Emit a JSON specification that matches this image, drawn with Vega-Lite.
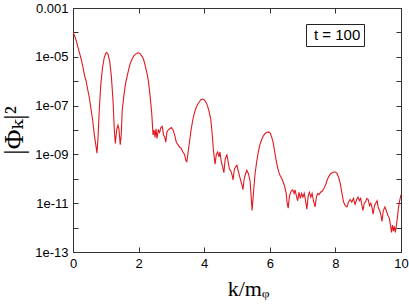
{
  "$schema": "https://vega.github.io/schema/vega-lite/v6.json",
  "width": 328,
  "height": 244,
  "autosize": {"type": "none"},
  "padding": {"left": 73, "top": 8, "right": 8, "bottom": 52},
  "background": "white",
  "config": {
    "view": {"stroke": "#333333", "strokeWidth": 1},
    "axis": {"labelFont": "Liberation Sans", "labelColor": "black", "domainColor": "#333333", "tickColor": "#333333", "grid": false}
  },
  "data": {"values": [
    {"k": 0, "v": 1.05e-4}, {"k": 0.05, "v": 7.08e-5}, {"k": 0.10, "v": 4.47e-5}, {"k": 0.15, "v": 2.51e-5},
    {"k": 0.20, "v": 1.41e-5}, {"k": 0.25, "v": 7.94e-6}, {"k": 0.30, "v": 3.98e-6}, {"k": 0.35, "v": 1.78e-6},
    {"k": 0.40, "v": 1e-6}, {"k": 0.45, "v": 4.47e-7}, {"k": 0.50, "v": 2.0e-7}, {"k": 0.55, "v": 7.08e-8},
    {"k": 0.60, "v": 2.51e-8}, {"k": 0.65, "v": 6.31e-9}, {"k": 0.70, "v": 2.24e-9}, {"k": 0.73, "v": 1.12e-9},
    {"k": 0.76, "v": 3.98e-9}, {"k": 0.80, "v": 6.31e-8}, {"k": 0.85, "v": 7.94e-7}, {"k": 0.90, "v": 3.55e-6},
    {"k": 0.95, "v": 8.91e-6}, {"k": 1.00, "v": 1.41e-5}, {"k": 1.03, "v": 1.51e-5}, {"k": 1.07, "v": 1.26e-5},
    {"k": 1.12, "v": 6.31e-6}, {"k": 1.17, "v": 1.58e-6}, {"k": 1.22, "v": 1.58e-7}, {"k": 1.26, "v": 1e-8},
    {"k": 1.29, "v": 2.82e-9}, {"k": 1.33, "v": 1e-8}, {"k": 1.37, "v": 1.58e-8}, {"k": 1.40, "v": 1.12e-8},
    {"k": 1.44, "v": 2.51e-9}, {"k": 1.47, "v": 6.31e-9}, {"k": 1.50, "v": 6.31e-8}, {"k": 1.55, "v": 2.51e-7},
    {"k": 1.60, "v": 7.94e-7}, {"k": 1.65, "v": 1.58e-6}, {"k": 1.70, "v": 3.16e-6}, {"k": 1.75, "v": 5.62e-6},
    {"k": 1.80, "v": 7.94e-6}, {"k": 1.85, "v": 1.07e-5}, {"k": 1.90, "v": 1.26e-5}, {"k": 1.95, "v": 1.41e-5},
    {"k": 2.00, "v": 1.45e-5}, {"k": 2.05, "v": 1.32e-5}, {"k": 2.10, "v": 1.07e-5}, {"k": 2.15, "v": 7.94e-6},
    {"k": 2.20, "v": 4.47e-6}, {"k": 2.25, "v": 2.24e-6}, {"k": 2.30, "v": 1e-6}, {"k": 2.35, "v": 2.51e-7},
    {"k": 2.40, "v": 5.01e-8}, {"k": 2.44, "v": 6.31e-9}, {"k": 2.47, "v": 1e-8}, {"k": 2.50, "v": 5.01e-9},
    {"k": 2.53, "v": 1.12e-8}, {"k": 2.56, "v": 4.47e-9}, {"k": 2.60, "v": 1e-8}, {"k": 2.64, "v": 7.94e-9},
    {"k": 2.68, "v": 1.26e-8}, {"k": 2.72, "v": 1.41e-8}, {"k": 2.76, "v": 6.31e-9}, {"k": 2.80, "v": 5.01e-9},
    {"k": 2.83, "v": 3.16e-9}, {"k": 2.86, "v": 7.94e-9}, {"k": 2.90, "v": 1e-8}, {"k": 2.95, "v": 1.12e-8},
    {"k": 3.00, "v": 1.26e-8}, {"k": 3.05, "v": 1e-8}, {"k": 3.10, "v": 6.31e-9}, {"k": 3.15, "v": 3.16e-9},
    {"k": 3.20, "v": 2.51e-9}, {"k": 3.25, "v": 2.0e-9}, {"k": 3.30, "v": 1.78e-9}, {"k": 3.35, "v": 1.26e-9},
    {"k": 3.40, "v": 1e-9}, {"k": 3.44, "v": 5.62e-10}, {"k": 3.47, "v": 5.01e-10}, {"k": 3.50, "v": 1e-9},
    {"k": 3.55, "v": 3.16e-9}, {"k": 3.60, "v": 1e-8}, {"k": 3.65, "v": 2.51e-8}, {"k": 3.70, "v": 5.01e-8},
    {"k": 3.75, "v": 7.94e-8}, {"k": 3.80, "v": 1.12e-7}, {"k": 3.85, "v": 1.41e-7}, {"k": 3.90, "v": 1.74e-7},
    {"k": 3.95, "v": 1.86e-7}, {"k": 4.00, "v": 1.74e-7}, {"k": 4.05, "v": 1.41e-7}, {"k": 4.10, "v": 1e-7},
    {"k": 4.15, "v": 5.62e-8}, {"k": 4.20, "v": 2.82e-8}, {"k": 4.24, "v": 7.94e-9}, {"k": 4.28, "v": 1.58e-9},
    {"k": 4.33, "v": 3.98e-10}, {"k": 4.37, "v": 1e-9}, {"k": 4.41, "v": 1.26e-9}, {"k": 4.45, "v": 7.94e-10},
    {"k": 4.48, "v": 1.26e-9}, {"k": 4.52, "v": 5.01e-10}, {"k": 4.56, "v": 3.16e-10}, {"k": 4.60, "v": 1.78e-10},
    {"k": 4.64, "v": 6.31e-10}, {"k": 4.69, "v": 1e-9}, {"k": 4.73, "v": 5.01e-10}, {"k": 4.77, "v": 2.51e-10},
    {"k": 4.82, "v": 2.0e-10}, {"k": 4.86, "v": 1.26e-10}, {"k": 4.88, "v": 8.91e-11}, {"k": 4.92, "v": 2.51e-10},
    {"k": 4.96, "v": 3.16e-10}, {"k": 5.00, "v": 3.55e-10}, {"k": 5.04, "v": 2.0e-10}, {"k": 5.08, "v": 1.26e-10},
    {"k": 5.12, "v": 7.94e-11}, {"k": 5.16, "v": 5.01e-11}, {"k": 5.18, "v": 3.55e-11}, {"k": 5.22, "v": 1e-10},
    {"k": 5.26, "v": 1.58e-10}, {"k": 5.30, "v": 2.24e-10}, {"k": 5.35, "v": 1.58e-10}, {"k": 5.40, "v": 7.94e-11},
    {"k": 5.43, "v": 2.0e-11}, {"k": 5.46, "v": 5.01e-12}, {"k": 5.50, "v": 2.51e-11}, {"k": 5.55, "v": 1.58e-10},
    {"k": 5.60, "v": 5.01e-10}, {"k": 5.65, "v": 1.26e-9}, {"k": 5.70, "v": 2.51e-9}, {"k": 5.75, "v": 3.98e-9},
    {"k": 5.80, "v": 5.62e-9}, {"k": 5.85, "v": 7.08e-9}, {"k": 5.90, "v": 7.94e-9}, {"k": 5.95, "v": 8.32e-9},
    {"k": 6.00, "v": 7.94e-9}, {"k": 6.05, "v": 5.62e-9}, {"k": 6.10, "v": 3.16e-9}, {"k": 6.15, "v": 1.26e-9},
    {"k": 6.20, "v": 5.01e-10}, {"k": 6.25, "v": 2.51e-10}, {"k": 6.28, "v": 1.78e-10}, {"k": 6.31, "v": 1.41e-10},
    {"k": 6.35, "v": 1.12e-10}, {"k": 6.40, "v": 7.94e-11}, {"k": 6.45, "v": 5.01e-11}, {"k": 6.50, "v": 2.51e-11},
    {"k": 6.53, "v": 1e-11}, {"k": 6.56, "v": 6.31e-12}, {"k": 6.60, "v": 2.0e-11}, {"k": 6.65, "v": 3.16e-11},
    {"k": 6.70, "v": 3.55e-11}, {"k": 6.74, "v": 2.51e-11}, {"k": 6.77, "v": 3.55e-11}, {"k": 6.81, "v": 2.0e-11},
    {"k": 6.85, "v": 1.26e-11}, {"k": 6.89, "v": 2.82e-11}, {"k": 6.93, "v": 1.58e-11}, {"k": 6.97, "v": 2.51e-11},
    {"k": 7.01, "v": 1.78e-11}, {"k": 7.05, "v": 2.51e-11}, {"k": 7.09, "v": 1.26e-11}, {"k": 7.13, "v": 5.62e-12},
    {"k": 7.17, "v": 2.0e-11}, {"k": 7.21, "v": 2.82e-11}, {"k": 7.25, "v": 1.78e-11}, {"k": 7.29, "v": 2.51e-11},
    {"k": 7.33, "v": 1.26e-11}, {"k": 7.38, "v": 7.08e-12}, {"k": 7.42, "v": 1.78e-11}, {"k": 7.46, "v": 2.51e-11},
    {"k": 7.50, "v": 2.24e-11}, {"k": 7.55, "v": 2.82e-11}, {"k": 7.60, "v": 3.16e-11}, {"k": 7.65, "v": 3.98e-11},
    {"k": 7.70, "v": 5.62e-11}, {"k": 7.75, "v": 8.91e-11}, {"k": 7.80, "v": 1.26e-10}, {"k": 7.85, "v": 1.58e-10},
    {"k": 7.90, "v": 1.78e-10}, {"k": 7.95, "v": 1.91e-10}, {"k": 8.00, "v": 1.91e-10}, {"k": 8.05, "v": 1.66e-10},
    {"k": 8.10, "v": 1.12e-10}, {"k": 8.15, "v": 6.31e-11}, {"k": 8.20, "v": 2.51e-11}, {"k": 8.25, "v": 1.12e-11},
    {"k": 8.30, "v": 7.94e-12}, {"k": 8.35, "v": 7.08e-12}, {"k": 8.40, "v": 1.12e-11}, {"k": 8.45, "v": 1.41e-11},
    {"k": 8.50, "v": 1.12e-11}, {"k": 8.55, "v": 1.58e-11}, {"k": 8.60, "v": 8.91e-12}, {"k": 8.65, "v": 1.41e-11},
    {"k": 8.69, "v": 1.78e-11}, {"k": 8.73, "v": 1.26e-11}, {"k": 8.77, "v": 1.58e-11}, {"k": 8.81, "v": 7.94e-12},
    {"k": 8.84, "v": 5.01e-12}, {"k": 8.88, "v": 1e-11}, {"k": 8.92, "v": 1.12e-11}, {"k": 8.96, "v": 1.58e-11},
    {"k": 9.00, "v": 1.41e-11}, {"k": 9.04, "v": 7.94e-12}, {"k": 9.08, "v": 1e-11}, {"k": 9.12, "v": 6.31e-12},
    {"k": 9.15, "v": 3.55e-12}, {"k": 9.19, "v": 7.94e-12}, {"k": 9.23, "v": 1e-11}, {"k": 9.27, "v": 1.26e-11},
    {"k": 9.31, "v": 6.31e-12}, {"k": 9.35, "v": 5.01e-12}, {"k": 9.39, "v": 3.16e-12}, {"k": 9.42, "v": 1.78e-12},
    {"k": 9.46, "v": 5.01e-12}, {"k": 9.51, "v": 7.08e-12}, {"k": 9.55, "v": 5.01e-12}, {"k": 9.60, "v": 3.16e-12},
    {"k": 9.64, "v": 2.51e-12}, {"k": 9.68, "v": 1.26e-12}, {"k": 9.71, "v": 6.31e-13}, {"k": 9.74, "v": 1.26e-12},
    {"k": 9.77, "v": 7.08e-13}, {"k": 9.80, "v": 1.12e-12}, {"k": 9.83, "v": 6.31e-13}, {"k": 9.86, "v": 1.26e-12},
    {"k": 9.89, "v": 2.51e-12}, {"k": 9.92, "v": 6.31e-12}, {"k": 9.96, "v": 1.26e-11}, {"k": 10.0, "v": 2.24e-11}
  ]},
  "layer": [
    {
      "mark": {"type": "line", "strokeWidth": 1.1, "clip": true},
      "encoding": {
        "x": {"field": "k", "type": "quantitative",
          "scale": {"domain": [0, 10], "nice": false, "zero": false},
          "axis": {"orient": "bottom", "values": [0, 2, 4, 6, 8, 10], "tickSize": -5, "labelPadding": 10, "labelFontSize": 13, "labelFlush": false,
            "title": "k/mᵩ", "titleFont": "Liberation Serif, DejaVu Serif", "titleFontSize": 22, "titleFontWeight": "normal", "titlePadding": 8, "titleColor": "black", "titleX": 175}},
        "y": {"field": "v", "type": "quantitative",
          "scale": {"type": "log", "domain": [1e-13, 1e-3], "nice": false},
          "axis": {"orient": "left", "values": [1e-3, 1e-4, 1e-5, 1e-6, 1e-7, 1e-8, 1e-9, 1e-10, 1e-11, 1e-12, 1e-13],
            "tickSize": -5, "labelPadding": 10, "labelFontSize": 13, "labelFlush": false,
            "labelExpr": "round(log(datum.value)/LN10) % 2 == 0 ? '' : (datum.value >= 0.001 ? '0.001' : '1e-' + (round(-log(datum.value)/LN10) < 10 ? '0' : '') + round(-log(datum.value)/LN10))",
            "title": "|Φₖ|²", "titleFont": "Liberation Serif, DejaVu Serif", "titleFontSize": 27, "titleFontWeight": "normal", "titlePadding": 6, "titleColor": "black"}},
        "color": {"datum": "t = 100", "type": "nominal",
          "scale": {"range": ["#e3171f"]},
          "legend": {"title": null, "orient": "none", "legendX": 233, "legendY": 16, "strokeColor": "#222222", "padding": 3,
            "labelFont": "Liberation Sans", "labelFontSize": 15, "labelColor": "black", "symbolType": "circle", "symbolSize": 0.01, "symbolStrokeWidth": 0, "symbolOpacity": 0, "labelOffset": -10, "columnPadding": 0}}
      }
    },
    {
      "mark": {"type": "line", "opacity": 0},
      "encoding": {
        "x": {"field": "k", "type": "quantitative",
          "axis": {"orient": "top", "values": [0, 2, 4, 6, 8, 10], "tickSize": -5, "labels": false, "title": null}},
        "y": {"field": "v", "type": "quantitative",
          "axis": {"orient": "right", "values": [1e-3, 1e-4, 1e-5, 1e-6, 1e-7, 1e-8, 1e-9, 1e-10, 1e-11, 1e-12, 1e-13], "tickSize": -5, "labels": false, "title": null}}
      }
    }
  ],
  "resolve": {"axis": {"x": "independent", "y": "independent"}}
}
